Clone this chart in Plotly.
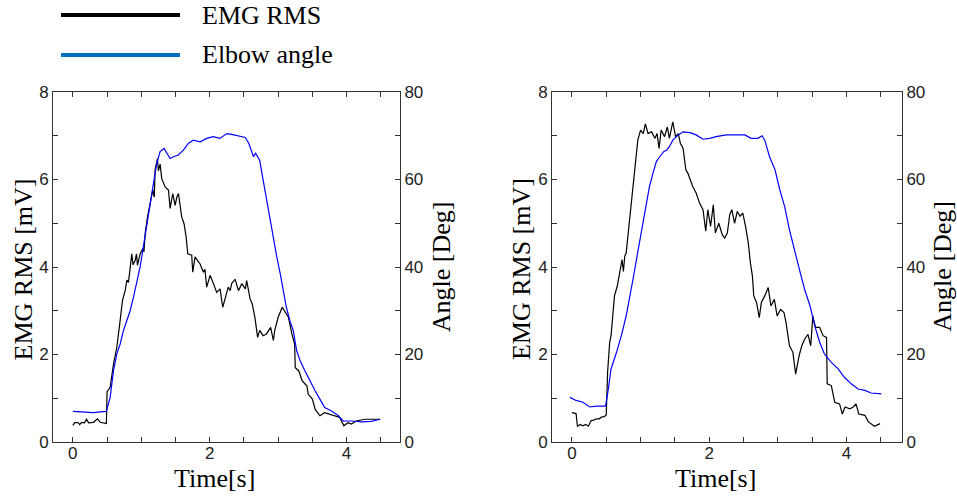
import plotly.graph_objects as go

# ---------------- data ----------------
left_t_emg = [0.00, 0.03, 0.08, 0.10, 0.13, 0.17, 0.20, 0.23, 0.30, 0.33, 0.36, 0.40, 0.46, 0.49,
              0.50, 0.545, 0.594, 0.642, 0.691, 0.725, 0.764, 0.790, 0.813, 0.837, 0.861, 0.880,
              0.910, 0.930, 0.944, 0.983, 1.022, 1.040, 1.056, 1.090, 1.129, 1.168, 1.190, 1.202,
              1.236, 1.250, 1.275, 1.299, 1.348, 1.397, 1.421, 1.440, 1.460, 1.494, 1.520, 1.543,
              1.570, 1.591, 1.625, 1.655, 1.679, 1.737, 1.752, 1.786, 1.820, 1.859, 1.908, 1.930,
              1.956, 2.005, 2.054, 2.102, 2.151, 2.190, 2.224, 2.27, 2.30, 2.32, 2.37, 2.42, 2.47,
              2.52, 2.54, 2.59, 2.62, 2.66, 2.70, 2.73, 2.78, 2.83, 2.89, 2.93, 2.95, 3.00, 3.06,
              3.10, 3.15, 3.20, 3.24, 3.25, 3.30, 3.35, 3.42, 3.44, 3.50, 3.54, 3.61, 3.68, 3.76,
              3.83, 3.90, 3.96, 4.02, 4.07, 4.14, 4.27, 4.36, 4.49]
left_emg = [0.38, 0.45, 0.44, 0.40, 0.45, 0.44, 0.52, 0.44, 0.45, 0.49, 0.53, 0.45, 0.44, 0.42,
            1.15, 1.25, 1.78, 2.16, 2.78, 3.23, 3.46, 3.70, 3.65, 4.00, 4.30, 4.05,
            4.15, 4.30, 4.04, 4.30, 4.42, 4.35, 4.76, 5.14, 5.45, 5.76, 5.60, 6.22,
            6.48, 6.20, 6.35, 6.02, 5.83, 5.76, 5.34, 5.55, 5.68, 5.41, 5.60, 5.68,
            5.40, 5.14, 4.99, 4.69, 4.30, 4.27, 3.88, 4.23, 4.15, 4.07, 3.88, 3.95,
            3.54, 3.81, 3.62, 3.42, 3.50, 3.08, 3.27, 3.54, 3.46, 3.62, 3.72, 3.46, 3.62,
            3.50, 3.69, 3.27, 3.16, 2.85, 2.39, 2.55, 2.43, 2.47, 2.62, 2.32, 2.55, 2.85, 3.08,
            2.97, 2.85, 2.47, 2.24, 1.70, 1.63, 1.40, 1.28, 1.09, 0.98, 0.75, 0.60, 0.67, 0.63,
            0.60, 0.56, 0.37, 0.44, 0.41, 0.48, 0.52, 0.52, 0.52]

left_t_angle = [0.00, 0.10, 0.20, 0.30, 0.40, 0.49, 0.545, 0.594, 0.642, 0.691, 0.740, 0.788,
                0.837, 0.886, 0.934, 0.983, 1.03, 1.08, 1.129, 1.178, 1.226, 1.275, 1.333, 1.372,
                1.421, 1.47, 1.54, 1.615, 1.69, 1.76, 1.86, 1.956, 2.05, 2.15, 2.25, 2.32, 2.42,
                2.52, 2.57, 2.64, 2.67, 2.73, 2.78, 2.83, 2.88, 2.93, 2.98, 3.03, 3.08, 3.12,
                3.17, 3.22, 3.27, 3.32, 3.39, 3.46, 3.54, 3.61, 3.68, 3.78, 3.88, 3.95, 4.07,
                4.22, 4.36, 4.49]
left_angle = [7.0, 6.9, 6.8, 6.7, 6.9, 7.0, 10.2, 16.3, 20.1, 22.4, 25.5, 27.8,
              30.0, 33.1, 36.2, 40.0, 44.6, 49.2, 54.5, 59.1, 63.7, 66.4, 67.1, 66.0,
              64.8, 65.2, 65.6, 66.7, 68.3, 69.0, 68.6, 69.4, 69.8, 69.4, 70.5, 70.3, 70.0,
              69.6, 68.3, 65.2, 66.0, 64.4, 59.9, 55.3, 50.7, 46.1, 42.3, 38.5, 34.6, 30.8,
              27.8, 25.5, 20.9, 18.6, 16.3, 14.0, 11.7, 9.8, 7.9, 7.1, 6.0, 4.8, 4.8,
              4.6, 4.7, 5.2]

right_t_emg = [0.00, 0.06, 0.08, 0.12, 0.16, 0.20, 0.24, 0.28, 0.32, 0.355, 0.40, 0.43, 0.47,
               0.49, 0.50, 0.52, 0.55, 0.57, 0.60, 0.62, 0.66, 0.70, 0.73, 0.75, 0.77, 0.79,
               0.82, 0.85, 0.89, 0.93, 0.96, 1.00, 1.04, 1.07, 1.11, 1.16, 1.21, 1.24, 1.27,
               1.30, 1.35, 1.39, 1.42, 1.47, 1.51, 1.55, 1.58, 1.62, 1.66, 1.69, 1.73, 1.76,
               1.81, 1.86, 1.91, 1.95, 1.98, 2.02, 2.06, 2.09, 2.14, 2.19, 2.226, 2.265, 2.30,
               2.33, 2.37, 2.41, 2.45, 2.49, 2.53, 2.57, 2.60, 2.63, 2.65, 2.69, 2.73, 2.76,
               2.81, 2.86, 2.90, 2.95, 2.99, 3.04, 3.09, 3.12, 3.17, 3.22, 3.26, 3.31, 3.35,
               3.39, 3.44, 3.48, 3.51, 3.55, 3.61, 3.66, 3.71, 3.72, 3.78, 3.83, 3.90, 3.94,
               3.98, 4.05, 4.10, 4.14, 4.18, 4.27, 4.32, 4.41, 4.49]
right_emg = [0.67, 0.65, 0.36, 0.40, 0.37, 0.40, 0.36, 0.49, 0.50, 0.53, 0.53, 0.57, 0.58,
             0.61, 0.62, 1.60, 2.28, 2.43, 2.88, 3.34, 3.56, 3.87, 4.17, 3.90, 4.25, 4.32,
             4.78, 5.23, 5.92, 6.45, 6.90, 7.13, 7.05, 7.27, 7.05, 7.09, 6.94, 7.05, 6.71,
             7.13, 6.98, 7.20, 6.94, 7.32, 6.98, 7.05, 6.83, 6.71, 6.22, 6.14, 5.95, 5.84,
             5.69, 5.46, 5.31, 4.82, 5.31, 4.93, 5.42, 4.78, 5.00, 4.74, 4.66, 4.78, 5.20,
             5.31, 5.00, 5.27, 5.16, 5.23, 4.93, 4.55, 4.10, 3.79, 3.34, 3.19, 2.84, 3.19,
             3.34, 3.53, 3.11, 3.26, 2.88, 3.03, 2.96, 2.73, 2.20, 2.05, 1.55, 1.97, 2.20,
             2.35, 2.46, 2.20, 2.88, 2.62, 2.62, 2.43, 2.39, 1.33, 1.29, 0.91, 0.87, 0.64,
             0.80, 0.76, 0.80, 0.87, 0.64, 0.61, 0.46, 0.36, 0.42]

right_t_angle = [-0.03, 0.06, 0.16, 0.26, 0.36, 0.49, 0.53, 0.57, 0.65, 0.72, 0.79, 0.84, 0.89,
                 0.94, 0.99, 1.04, 1.08, 1.13, 1.18, 1.23, 1.28, 1.34, 1.38, 1.42, 1.47, 1.55,
                 1.62, 1.72, 1.81, 1.91, 2.01, 2.10, 2.25, 2.42, 2.52, 2.61, 2.71, 2.77, 2.81,
                 2.88, 2.96, 3.03, 3.10, 3.17, 3.25, 3.32, 3.39, 3.47, 3.54, 3.61, 3.68, 3.78,
                 3.88, 3.97, 4.07, 4.17, 4.27, 4.36, 4.51]
right_angle = [10.2, 9.5, 9.1, 8.0, 8.2, 8.2, 12.1, 16.7, 20.5, 24.3, 28.8, 32.6, 37.2,
               41.7, 46.3, 50.8, 54.6, 58.4, 61.4, 64.1, 65.2, 66.4, 66.7, 67.5, 69.0, 70.2,
               70.9, 70.7, 70.2, 69.2, 69.4, 69.8, 70.2, 70.3, 70.2, 69.4, 69.4, 70.0, 69.0,
               65.2, 62.2, 57.6, 53.8, 48.5, 43.2, 39.1, 34.9, 31.1, 26.5, 22.8, 20.1, 18.2,
               16.7, 14.8, 13.3, 12.1, 11.8, 11.2, 11.0]

series_names = ["EMG RMS", "Elbow angle"]
x_title = "Time[s]"
y_title = "EMG RMS [mV]"
y2_title = "Angle [Deg]"

# ---------------- styles ----------------
SANS = "Liberation Sans, Arial, sans-serif"
SERIF = "Liberation Serif, Times New Roman, serif"
AX = "#333333"
EMG_COLOR = "black"
ANG_COLOR = "#0000ff"
LEG_EMG = "black"
LEG_ANG = "#0070c0"

fig = go.Figure()
fig.add_trace(go.Scatter(x=left_t_emg, y=left_emg, mode="lines", name=series_names[0],
                         line=dict(color=EMG_COLOR, width=1.2), xaxis="x", yaxis="y", showlegend=False))
fig.add_trace(go.Scatter(x=left_t_angle, y=left_angle, mode="lines", name=series_names[1],
                         line=dict(color=ANG_COLOR, width=1.2), xaxis="x", yaxis="y2", showlegend=False))
fig.add_trace(go.Scatter(x=right_t_emg, y=right_emg, mode="lines", name=series_names[0],
                         line=dict(color=EMG_COLOR, width=1.2), xaxis="x2", yaxis="y3", showlegend=False))
fig.add_trace(go.Scatter(x=right_t_angle, y=right_angle, mode="lines", name=series_names[1],
                         line=dict(color=ANG_COLOR, width=1.2), xaxis="x2", yaxis="y4", showlegend=False))

tickfont = dict(family=SANS, size=17, color="#222222")
titlefont = dict(family=SERIF, size=26, color="black")
common = dict(showline=True, linecolor=AX, linewidth=1, ticks="inside", ticklen=5,
              tickcolor=AX, tickwidth=1, showgrid=False, zeroline=False, tickfont=tickfont,
              automargin=False)


def xax(domain, rng, anchor):
    return dict(common, domain=domain, range=rng, anchor=anchor, tick0=0, dtick=2,
                mirror="ticks", ticklabelstandoff=-4,
                minor=dict(dtick=0.5, tick0=0, ticks="inside", ticklen=5, tickcolor=AX))


def yax(anchor):
    return dict(common, range=[0, 8], anchor=anchor, tick0=0, dtick=2, domain=[0, 1],
                minor=dict(dtick=1, tick0=0, ticks="inside", ticklen=5, tickcolor=AX))


def y2ax(anchor, overlay):
    return dict(common, range=[0, 80], anchor=anchor, overlaying=overlay, side="right",
                tick0=0, dtick=20,
                minor=dict(dtick=10, tick0=0, ticks="inside", ticklen=5, tickcolor=AX))


fig.update_layout(
    width=957, height=498,
    margin=dict(l=53, r=55, t=92, b=56, autoexpand=False),
    paper_bgcolor="white", plot_bgcolor="white",
    showlegend=False,
    xaxis=xax([0, 0.4087], [-0.29, 4.78], "y"),
    yaxis=yax("x"),
    yaxis2=y2ax("x", "y"),
    xaxis2=xax([0.5878, 1], [-0.29, 4.81], "y3"),
    yaxis3=yax("x2"),
    yaxis4=y2ax("x2", "y3"),
)

# axis titles as annotations (exact placement)
titles = [
    (x_title, 0.1908, -0.103, 0),
    (x_title, 0.780, -0.103, 0),
    (y_title, -0.0353, 0.493, -90),
    (y2_title, 0.4578, 0.501, -90),
    (y_title, 0.552, 0.493, -90),
    (y2_title, 1.0483, 0.501, -90),
]
for txt, xx, yy, ang in titles:
    fig.add_annotation(xref="paper", yref="paper", x=xx, y=yy, text=txt, showarrow=False,
                       xanchor="center", yanchor="middle", textangle=ang, font=titlefont)

# manual legend (long line samples, as in the reference)
leg_rows = [(series_names[0], LEG_EMG, 1.22), (series_names[1], LEG_ANG, 1.106)]
for name, col, yy in leg_rows:
    fig.add_shape(type="line", xref="paper", yref="paper", x0=0.0094, x1=0.1496, y0=yy, y1=yy,
                  line=dict(color=col, width=4))
    fig.add_annotation(xref="paper", yref="paper", x=0.173, y=yy, text=name, showarrow=False,
                       xanchor="left", yanchor="middle", font=dict(family=SERIF, size=26, color="black"))

fig.write_html("out.html", config={"displayModeBar": False},
               post_script="document.body.style.margin='0';document.body.style.overflow='hidden';")
